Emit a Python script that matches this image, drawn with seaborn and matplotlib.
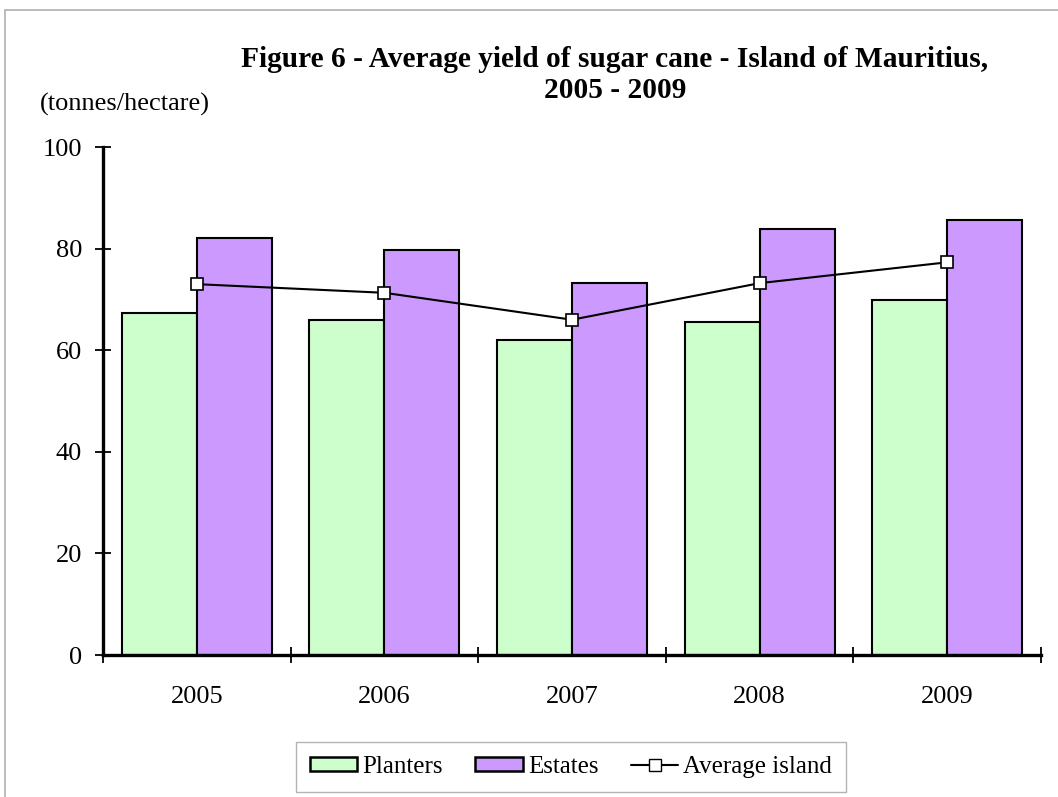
import numpy as np
import pandas as pd
import matplotlib
matplotlib.use("Agg")
import matplotlib.pyplot as plt
import seaborn as sns
from matplotlib.patches import Patch, Rectangle
from matplotlib.lines import Line2D

years = ["2005", "2006", "2007", "2008", "2009"]
planters = [67.3, 66.0, 62.0, 65.5, 69.9]
estates = [82.0, 79.8, 73.2, 83.8, 85.7]
average_island = [73.0, 71.3, 66.0, 73.2, 77.3]
series_names = ["Planters", "Estates", "Average island"]
yticks = [0, 20, 40, 60, 80, 100]

c_planters = "#CCFFCC"
c_estates = "#CC99FF"

sns.set_theme(style="white")
plt.rcParams["font.family"] = ["Liberation Serif", "DejaVu Serif"]
plt.rcParams["text.color"] = "black"
plt.rcParams["xtick.color"] = "black"
plt.rcParams["ytick.color"] = "black"

df = pd.DataFrame({
    "year": years * 2,
    "value": planters + estates,
    "series": [series_names[0]] * len(years) + [series_names[1]] * len(years),
})

fig = plt.figure(figsize=(10.58, 7.97), dpi=100)
ax = fig.add_axes([103 / 1058, 1 - 655 / 797, (1041 - 103) / 1058, (655 - 147) / 797])

sns.barplot(data=df, x="year", y="value", hue="series", order=years,
            hue_order=series_names[:2], palette=[c_planters, c_estates],
            width=0.8, gap=0, edgecolor="black", linewidth=1.5,
            saturation=1, legend=False, ax=ax, errorbar=None)

sns.lineplot(x=np.arange(len(years)), y=average_island, color="black",
             linewidth=1.5, marker="s", markersize=9, markerfacecolor="white",
             markeredgecolor="black", markeredgewidth=1.2, ax=ax, zorder=5)

ax.set_xlim(-0.5, len(years) - 0.5)
ax.set_ylim(0, 100)
ax.set_yticks(yticks)
ax.set_yticklabels([str(v) for v in yticks], fontsize=19)
ax.set_xticks(np.arange(len(years)))
ax.set_xticklabels(years, fontsize=19)
ax.set_xticks(np.arange(len(years) + 1) - 0.5, minor=True)
ax.tick_params(axis="x", which="major", bottom=False, length=0, pad=22, labelcolor="black")
ax.tick_params(axis="x", which="minor", bottom=True, direction="inout", length=12,
               width=1.3, color="black")
ax.tick_params(axis="y", which="major", left=True, direction="inout", length=12,
               width=1.3, color="black", pad=9, labelcolor="black")
ax.set_xlabel("")
ax.set_ylabel("")
for s in ["top", "right"]:
    ax.spines[s].set_visible(False)
for s in ["left", "bottom"]:
    ax.spines[s].set_color("black")
    ax.spines[s].set_linewidth(2.4)

fig.text(615 / 1058, 1 - 75 / 797,
         "Figure 6 - Average yield of sugar cane - Island of Mauritius,\n2005 - 2009",
         ha="center", va="center", fontsize=21.2, fontweight="bold", linespacing=1.15)
fig.text(40 / 1058, 1 - 104 / 797, "(tonnes/hectare)", ha="left", va="center", fontsize=19)

handles = [
    Patch(facecolor=c_planters, edgecolor="black", linewidth=1.8),
    Patch(facecolor=c_estates, edgecolor="black", linewidth=1.8),
    Line2D([0], [0], color="black", linewidth=1.5, marker="s", markersize=9,
           markerfacecolor="white", markeredgecolor="black"),
]
leg = fig.legend(handles, series_names, loc="center", ncol=3,
                 bbox_to_anchor=(571 / 1058, 1 - 767 / 797), fontsize=18,
                 frameon=True, fancybox=False, edgecolor="#A0A0A0",
                 handlelength=1.9, handleheight=0.48, handletextpad=0.2,
                 columnspacing=1.3, borderpad=0.55, borderaxespad=0)
leg.get_frame().set_linewidth(1.0)

fig.patches.append(Rectangle((5 / 1058, -0.05), 1.0, 1 - 10 / 797 + 0.05,
                             transform=fig.transFigure, fill=False,
                             edgecolor="#B0B0B0", linewidth=1.2))

fig.savefig("out.png", dpi=100)
